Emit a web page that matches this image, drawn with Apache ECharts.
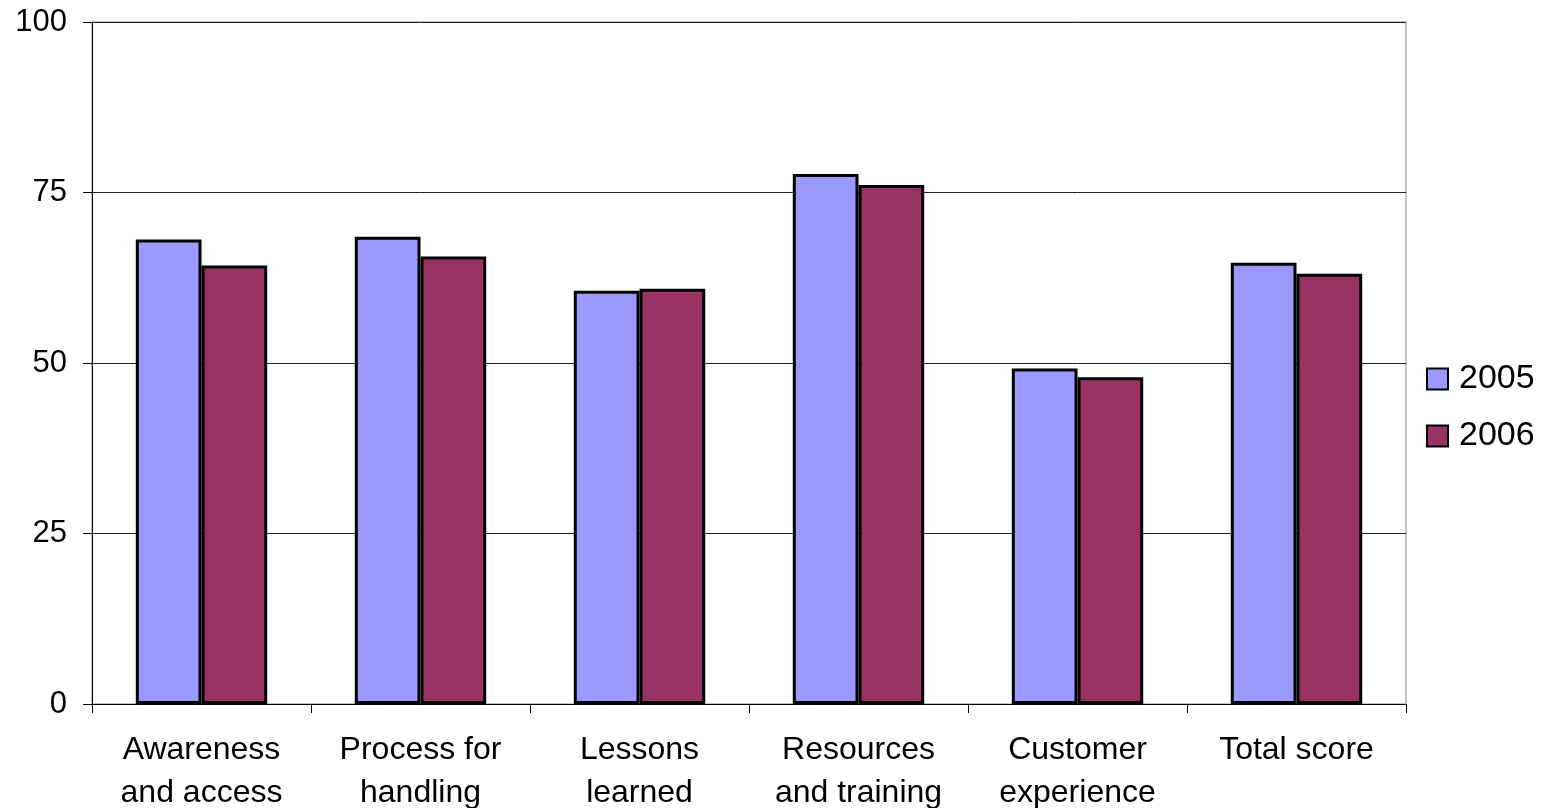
<!DOCTYPE html>
<html>
<head>
<meta charset="utf-8">
<script src="https://cdn.jsdelivr.net/npm/echarts@6/dist/echarts.min.js"></script>
<style>
  html, body { margin: 0; padding: 0; background: #fff; }
  #chart { width: 1560px; height: 808px; }
</style>
</head>
<body>
<div id="chart"></div>
<script>
// Category labels along the x axis
const categories = [
  'Awareness\nand access',
  'Process for\nhandling',
  'Lessons\nlearned',
  'Resources\nand training',
  'Customer\nexperience',
  'Total score'
];
// Scores per year
const seriesNames = ['2005', '2006'];
const values2005 = [68.1, 68.5, 60.6, 77.7, 49.2, 64.7];
const values2006 = [64.3, 65.6, 60.9, 76.1, 47.9, 63.1];
const yTicks = [0, 25, 50, 75, 100];

const FONT = '"Liberation Sans", Arial, sans-serif';

const chart = echarts.init(document.getElementById('chart'), null, { renderer: 'canvas' });

chart.setOption({
  backgroundColor: '#ffffff',
  animation: false,
  grid: {
    left: 92, right: 154, top: 22, bottom: 104,
    outerBoundsMode: 'none',
    containLabel: false,
    show: true, borderColor: '#888', borderWidth: 1, backgroundColor: 'transparent'
  },
  legend: {
    orient: 'vertical',
    left: 1421,
    top: 357,
    icon: 'rect',
    itemWidth: 21,
    itemHeight: 21,
    itemGap: 23,
    data: seriesNames,
    itemStyle: { borderColor: '#000', borderWidth: 2 },
    textStyle: { fontFamily: FONT, fontSize: 34, color: '#000', lineHeight: 34, padding: [0, 0, 0, 6] }
  },
  xAxis: {
    type: 'category',
    data: categories,
    axisLine: { lineStyle: { color: '#000', width: 1 } },
    axisTick: { show: true, alignWithLabel: false, length: 9, lineStyle: { color: '#000' } },
    axisLabel: {
      interval: 0,
      margin: 25,
      fontFamily: FONT, fontSize: 32, color: '#000', lineHeight: 43, align: 'center'
    },
    splitLine: { show: false }
  },
  yAxis: {
    type: 'value',
    min: yTicks[0],
    max: yTicks[yTicks.length - 1],
    interval: 25,
    axisLine: { show: true, lineStyle: { color: '#000', width: 1 } },
    axisTick: { show: true, length: 9, lineStyle: { color: '#000' } },
    axisLabel: { margin: 25, fontFamily: FONT, fontSize: 31, color: '#000' },
    splitLine: { show: true, lineStyle: { color: '#222', width: 1 } }
  },
  series: [
    {
      name: seriesNames[0],
      type: 'bar',
      data: values2005,
      barGap: '0%',
      barCategoryGap: '40%',
      itemStyle: { color: '#9999FF', borderColor: '#000', borderWidth: 3 }
    },
    {
      name: seriesNames[1],
      type: 'bar',
      data: values2006,
      barGap: '0%',
      barCategoryGap: '40%',
      itemStyle: { color: '#993366', borderColor: '#000', borderWidth: 3 }
    }
  ]
});
</script>
</body>
</html>
